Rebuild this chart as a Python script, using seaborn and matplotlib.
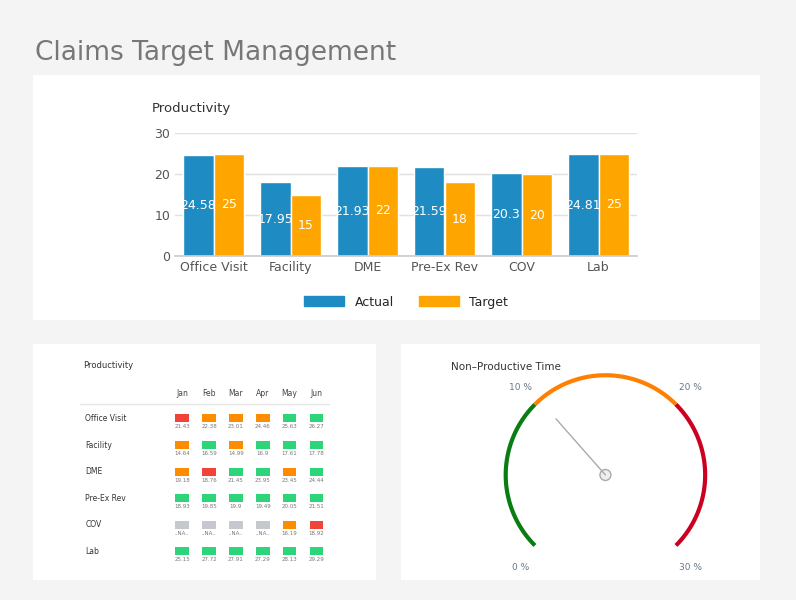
import numpy as np
import pandas as pd
import matplotlib.pyplot as plt
import matplotlib.patches as mpatches
import seaborn as sns

# data
categories = ["Office Visit", "Facility", "DME", "Pre-Ex Rev", "COV", "Lab"]
actual = [24.58, 17.95, 21.93, 21.59, 20.3, 24.81]
target = [25, 15, 22, 18, 20, 25]

months = ["Jan", "Feb", "Mar", "Apr", "May", "Jun"]
monthly_values = [
    ["21.43", "22.38", "23.01", "24.46", "25.63", "26.27"],
    ["14.64", "16.59", "14.99", "16.9", "17.61", "17.78"],
    ["19.18", "18.76", "21.45", "23.95", "23.45", "24.44"],
    ["18.93", "19.85", "19.9", "19.49", "20.05", "21.51"],
    ["..NA..", "..NA..", "..NA..", "..NA..", "16.19", "18.92"],
    ["25.15", "27.72", "27.91", "27.29", "28.13", "29.29"],
]
monthly_status = [
    ["red", "orange", "orange", "orange", "green", "green"],
    ["orange", "green", "orange", "green", "green", "green"],
    ["orange", "red", "green", "green", "orange", "green"],
    ["green", "green", "green", "green", "green", "green"],
    ["na", "na", "na", "na", "orange", "red"],
    ["green", "green", "green", "green", "green", "green"],
]

gauge_bands = [(0, 10, "#0a7d12"), (10, 20, "#ff8000"), (20, 30, "#cc0020")]
gauge_ticks = [0, 10, 20, 30]
gauge_value = 10.4

status_colors = {"red": "#f0433a", "orange": "#ff8c00",
                 "green": "#2ed47a", "na": "#c5c9cf"}

sns.set_theme(style="white")
plt.rcParams["font.family"] = ["DejaVu Sans"]

W, H = 796, 600
fig = plt.figure(figsize=(W / 100, H / 100), dpi=100, facecolor="#f4f4f4")


def box(x0, y0, x1, y1):
    return [x0 / W, 1 - y1 / H, (x1 - x0) / W, (y1 - y0) / H]


fig.text(35 / W, 1 - 53 / H, "Claims Target Management", fontsize=19,
         color="#777777", va="center")

# panels, drawn behind the axes
for (x0, y0, x1, y1) in [(33, 75, 760, 320), (33, 344, 376, 580), (401, 344, 760, 580)]:
    fig.add_artist(mpatches.Rectangle((x0 / W, 1 - y1 / H), (x1 - x0) / W,
                                      (y1 - y0) / H, transform=fig.transFigure,
                                      facecolor="white", edgecolor="none", zorder=-10))

# top bar chart
df = pd.DataFrame({"category": categories * 2,
                   "value": actual + target,
                   "series": ["Actual"] * 6 + ["Target"] * 6})
ax = fig.add_axes(box(175, 133, 637, 256))
sns.barplot(data=df, x="category", y="value", hue="series",
            palette=["#1f8bc3", "#ffa500"], width=0.8, saturation=1,
            ax=ax, legend=False)
for c in ax.containers:
    ax.bar_label(c, labels=[f"{v:g}" for v in c.datavalues], label_type="center",
                 color="white", fontsize=9)
ax.set_ylim(0, 30)
ax.set_yticks([0, 10, 20, 30])
ax.yaxis.grid(True, color="#e0e0e0")
ax.set_axisbelow(True)
ax.set_xlabel("")
ax.set_ylabel("")
ax.tick_params(axis="both", labelsize=9, colors="#555555", length=0)
for s in ["top", "right", "left"]:
    ax.spines[s].set_visible(False)
ax.spines["bottom"].set_color("#cccccc")
ax.text(-0.05, 1.17, "Productivity", transform=ax.transAxes, fontsize=9.5,
        color="#333333")
handles = [mpatches.Patch(color="#1f8bc3", label="Actual"),
           mpatches.Patch(color="#ffa500", label="Target")]
ax.legend(handles=handles, loc="upper center", bbox_to_anchor=(0.5, -0.23),
          ncol=2, frameon=False, fontsize=9, handlelength=3.2, handleheight=0.9)

# monthly table
tx = fig.add_axes(box(80, 360, 330, 570))
tx.set_xlim(-3.3, 6.0)
tx.set_ylim(6.3, -1.6)
tx.axis("off")
tx.text(-3.2, -1.3, "Productivity", fontsize=6, color="#333333")
for j, m in enumerate(months):
    tx.text(j + 0.5, -0.35, m, fontsize=5.5, ha="center", va="center", color="#444444")
tx.plot([-3.3, 6.0], [0.05, 0.05], color="#e6e6e6", lw=1)
for i, cat in enumerate(categories):
    tx.text(-3.1, i + 0.6, cat, fontsize=5.5, va="center", color="#333333")
    for j in range(len(months)):
        tx.add_patch(mpatches.Rectangle((j + 0.25, i + 0.45), 0.5, 0.3,
                                        facecolor=status_colors[monthly_status[i][j]],
                                        edgecolor="none"))
        tx.text(j + 0.5, i + 0.92, monthly_values[i][j], fontsize=4, ha="center",
                va="center", color="#777777")

# gauge
gx = fig.add_axes(box(401, 344, 760, 580))
gx.set_xlim(-2.05, 1.55)
gx.set_ylim(-1.05, 1.31)
gx.set_aspect("equal")
gx.axis("off")
gx.text(-1.55, 1.05, "Non\u2013Productive Time", fontsize=7.5, color="#333333")


def ang(v):
    return np.deg2rad(225 - 270 * v / 30)


for lo, hi, col in gauge_bands:
    t = np.linspace(ang(lo), ang(hi), 100)
    gx.plot(np.cos(t), np.sin(t), color=col, lw=3, solid_capstyle="butt")
for v in gauge_ticks:
    a = ang(v)
    gx.text(1.2 * np.cos(a), 1.2 * np.sin(a) - (0.08 if v in (0, 30) else -0.03),
            f"{v} %", fontsize=6.5, color="#667788", ha="center", va="center")
a = ang(gauge_value)
gx.plot([0, 0.75 * np.cos(a)], [0, 0.75 * np.sin(a)], color="#aaaaaa", lw=1)
gx.add_patch(mpatches.Circle((0, 0), 0.055, facecolor="#eeeef2", edgecolor="#aaaaaa", lw=1))

fig.savefig("out.png", dpi=100, facecolor=fig.get_facecolor())
